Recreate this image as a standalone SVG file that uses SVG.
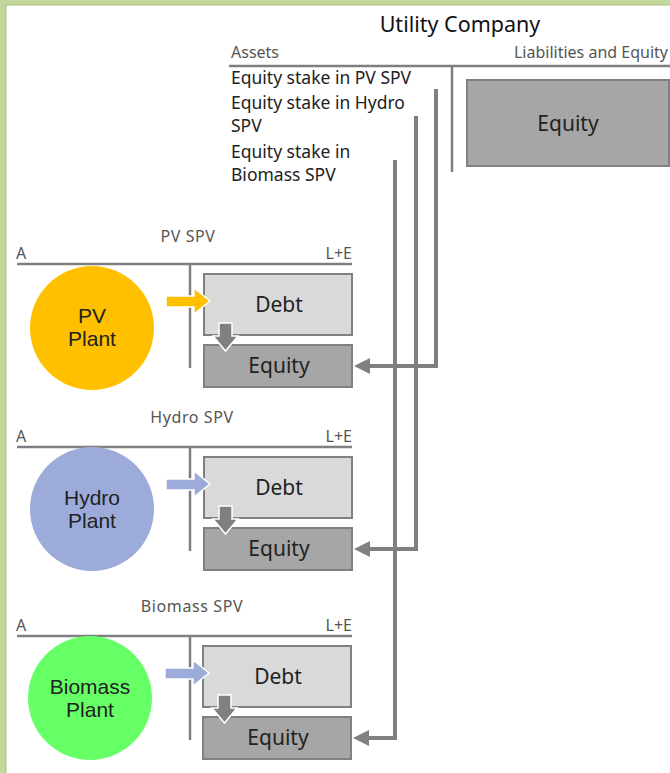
<svg xmlns="http://www.w3.org/2000/svg" width="670" height="773" viewBox="0 0 670 773">
<defs>
<style>
text{font-family:"Noto Sans","Liberation Sans",sans-serif;fill:#222}
.lbl{fill:#555;font-size:16px}
.spv{fill:#555;font-size:16px;letter-spacing:0.6px}
.big{font-size:21px}
.plant{font-family:"Liberation Sans","Noto Sans",sans-serif;font-size:21px}
.ttl{font-size:21.5px;fill:#111}
.stake{font-size:17.5px;fill:#222}
.rule{stroke:#7f7f7f;stroke-width:2.5;fill:none}
.debt{fill:#d9d9d9;stroke:#808080;stroke-width:2}
.eq{fill:#a6a6a6;stroke:#808080;stroke-width:2}
.conn{stroke:#808080;stroke-width:4;fill:none}
.head{fill:#808080}
.down{fill:#808080;stroke:#fff;stroke-width:1.5}
</style>
</defs>
<rect x="0" y="0" width="670" height="773" fill="#fff"/>
<rect x="0" y="0" width="6" height="773" fill="#c3d69b"/>
<rect x="0" y="0" width="670" height="5" fill="#c3d69b"/>
<line x1="6" y1="5" x2="6" y2="773" stroke="#a8bf80" stroke-width="1"/>
<line x1="6" y1="5" x2="670" y2="5" stroke="#a8bf80" stroke-width="1"/>

<g id="utility">
<text class="ttl" x="460" y="32" text-anchor="middle">Utility Company</text>
<text class="lbl" x="231" y="58">Assets</text>
<text class="lbl" x="668" y="58" text-anchor="end">Liabilities and Equity</text>
<line class="rule" x1="229" y1="66" x2="670" y2="66"/>
<line class="rule" x1="452" y1="66" x2="452" y2="172"/>
<rect class="eq" x="467" y="80" width="202" height="86"/>
<text class="big" x="568" y="131" text-anchor="middle">Equity</text>
<text class="stake" x="231" y="84">Equity stake in PV SPV</text>
<text class="stake" x="231" y="109">Equity stake in Hydro</text>
<text class="stake" x="231" y="132">SPV</text>
<text class="stake" x="231" y="158">Equity stake in</text>
<text class="stake" x="231" y="181">Biomass SPV</text>
</g>

<g id="pv-spv">
<text class="spv" x="188" y="242" text-anchor="middle">PV SPV</text>
<text class="lbl" x="16" y="259">A</text>
<text class="lbl" x="352" y="259" text-anchor="end">L+E</text>
<line class="rule" x1="17" y1="264" x2="352" y2="264"/>
<line class="rule" x1="190" y1="264" x2="190" y2="368"/>
<circle cx="92" cy="328" r="62" fill="#ffc000"/>
<text class="plant" x="92" y="323" text-anchor="middle">PV</text>
<text class="plant" x="92" y="346" text-anchor="middle">Plant</text>
<rect class="debt" x="204" y="274" width="148" height="61"/>
<text class="big" x="279" y="312" text-anchor="middle">Debt</text>
<rect class="eq" x="204" y="345" width="148" height="42"/>
<text class="big" x="279" y="373" text-anchor="middle">Equity</text>
<path d="M166,296 H194 V288 L210,301 L194,314 V307 H166 Z" fill="#ffc000" stroke="#fff" stroke-width="1.5"/>
<path d="M219,323 H232 V336 H238 L225.5,351 L213,336 H219 Z" class="down"/>
</g>

<g id="hydro-spv">
<text class="spv" x="192" y="423" text-anchor="middle">Hydro SPV</text>
<text class="lbl" x="16" y="442">A</text>
<text class="lbl" x="352" y="442" text-anchor="end">L+E</text>
<line class="rule" x1="17" y1="447" x2="352" y2="447"/>
<line class="rule" x1="190" y1="447" x2="190" y2="551"/>
<circle cx="92" cy="509" r="62" fill="#9dabdb"/>
<text class="plant" x="92" y="505" text-anchor="middle">Hydro</text>
<text class="plant" x="92" y="528" text-anchor="middle">Plant</text>
<rect class="debt" x="204" y="457" width="148" height="61"/>
<text class="big" x="279" y="495" text-anchor="middle">Debt</text>
<rect class="eq" x="204" y="528" width="148" height="42"/>
<text class="big" x="279" y="556" text-anchor="middle">Equity</text>
<path d="M166,479 H194 V471 L210,484 L194,497 V490 H166 Z" fill="#9dabdb" stroke="#fff" stroke-width="1.5"/>
<path d="M219,506 H232 V519 H238 L225.5,534 L213,519 H219 Z" class="down"/>
</g>

<g id="biomass-spv">
<text class="spv" x="192" y="612" text-anchor="middle">Biomass SPV</text>
<text class="lbl" x="16" y="631">A</text>
<text class="lbl" x="352" y="631" text-anchor="end">L+E</text>
<line class="rule" x1="17" y1="636" x2="352" y2="636"/>
<line class="rule" x1="190" y1="636" x2="190" y2="740"/>
<circle cx="90" cy="698" r="62" fill="#66ff66"/>
<text class="plant" x="90" y="694" text-anchor="middle">Biomass</text>
<text class="plant" x="90" y="717" text-anchor="middle">Plant</text>
<rect class="debt" x="203" y="646" width="148" height="61"/>
<text class="big" x="278" y="684" text-anchor="middle">Debt</text>
<rect class="eq" x="203" y="717" width="148" height="42"/>
<text class="big" x="278" y="745" text-anchor="middle">Equity</text>
<path d="M165,668 H193 V660 L209,673 L193,686 V679 H165 Z" fill="#9dabdb" stroke="#fff" stroke-width="1.5"/>
<path d="M218,695 H231 V708 H237 L224.5,723 L212,708 H218 Z" class="down"/>
</g>

<g id="connectors">
<path class="conn" d="M436,89 V366 H368"/>
<path class="conn" d="M416,116 V549 H368"/>
<path class="conn" d="M395,160 V738 H367"/>
<path class="head" d="M354,366 L370,358 L370,374 Z"/>
<path class="head" d="M354,549 L370,541 L370,557 Z"/>
<path class="head" d="M353,738 L369,730 L369,746 Z"/>
</g>
</svg>
